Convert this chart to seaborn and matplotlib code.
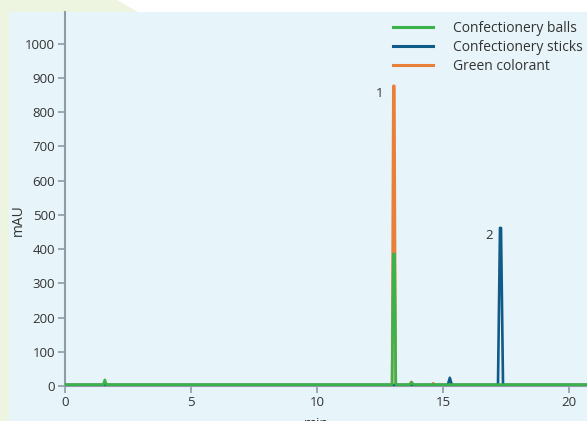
import matplotlib
matplotlib.use("Agg")
import matplotlib.pyplot as plt
import seaborn as sns
import pandas as pd
from matplotlib.patches import Polygon, Rectangle

# ---- data ----
balls_t = [0, 1.52, 1.58, 1.64, 1.70, 12.97, 13.02, 13.07, 13.12, 13.68, 13.75, 13.82, 20.7]
balls_v = [4, 4, 18, 4, 4, 4, 386, 386, 4, 4, 11, 4, 4]

sticks_t = [0, 15.18, 15.26, 15.34, 17.17, 17.25, 17.29, 17.37, 20.7]
sticks_v = [3, 3, 24, 3, 3, 462, 462, 3, 3]

colorant_t = [0, 12.97, 13.02, 13.06, 13.11, 13.66, 13.73, 13.80, 14.55, 14.60, 14.65, 20.7]
colorant_v = [3, 3, 877, 877, 3, 3, 12, 3, 3, 8, 3, 3]

series_names = ["Confectionery balls", "Confectionery sticks", "Green colorant"]
colors = ["#3bb34a", "#115b88", "#e8803a"]
peak_labels = ["1", "2"]
peak_label_x = [12.46, 16.83]
peak_label_y = [855, 441]
xticks = [0, 5, 10, 15, 20]
yticks = [0, 100, 200, 300, 400, 500, 600, 700, 800, 900, 1000]

W, H = 587, 421
fig = plt.figure(figsize=(W / 100, H / 100), dpi=100, facecolor="white")
plt.rcParams["font.family"] = ["Open Sans", "DejaVu Sans"]
text_col = "#333333"
spine_col = "#8e9ca6"

# background shapes (figure pixel coordinates, y up)
def fx(px):
    return px / W

def fy(py):
    return 1 - py / H

fig.patches.append(Polygon([(fx(0), fy(421)), (fx(0), fy(0)), (fx(117), fy(0)),
                            (fx(138), fy(12)), (fx(138), fy(421))],
                           closed=True, transform=fig.transFigure,
                           facecolor="#edf5e0", edgecolor="none", zorder=-20))
fig.patches.append(Rectangle((fx(9), fy(421)), fx(587) - fx(9), fy(12) - fy(421),
                             transform=fig.transFigure, facecolor="#e7f4f9",
                             edgecolor="none", zorder=-10))

ax = fig.add_axes([fx(65), fy(386), fx(587) - fx(65), fy(12) - fy(386)])
ax.set_zorder(5)
ax.set_facecolor("none")

df = pd.concat([
    pd.DataFrame({"t": balls_t, "v": balls_v, "s": series_names[0]}),
    pd.DataFrame({"t": sticks_t, "v": sticks_v, "s": series_names[1]}),
    pd.DataFrame({"t": colorant_t, "v": colorant_v, "s": series_names[2]}),
])

zorders = {series_names[0]: 4, series_names[1]: 3, series_names[2]: 2}
for name, col in zip(series_names, colors):
    sns.lineplot(data=df[df["s"] == name], x="t", y="v", color=col, lw=1.9,
                 estimator=None, sort=False, ax=ax, zorder=zorders[name],
                 label=name)

ax.set_xlim(0, 20.7)
ax.set_ylim(0, 1093)
ax.set_xticks(xticks)
ax.set_yticks(yticks)
ax.set_xticklabels([str(x) for x in xticks])
ax.set_yticklabels([str(y) for y in yticks])

for s in ["top", "right"]:
    ax.spines[s].set_visible(False)
for s in ["left", "bottom"]:
    ax.spines[s].set_color(spine_col)
    ax.spines[s].set_linewidth(1.5)
    ax.spines[s].set_zorder(1)
ax.tick_params(axis="both", colors=spine_col, length=5, width=1.2,
               labelcolor=text_col, labelsize=9.5, pad=2)

ax.set_xlabel("min", fontsize=10, color=text_col)
ax.set_ylabel("mAU", fontsize=10, color=text_col)
ax.xaxis.set_label_coords(0.481, -0.083)
ax.yaxis.set_label_coords(-0.074, 0.444)

for lab, x, y in zip(peak_labels, peak_label_x, peak_label_y):
    ax.text(x, y, lab, fontsize=9.5, color=text_col, ha="center", va="center")

leg = ax.legend(loc="upper left", bbox_to_anchor=(fx(393), fy(21)),
                bbox_transform=fig.transFigure, frameon=False, fontsize=10,
                handlelength=2.9, handletextpad=1.45, labelspacing=0.28,
                borderaxespad=0, borderpad=0)
for t in leg.get_texts():
    t.set_color(text_col)
for ln in leg.get_lines():
    ln.set_linewidth(2.2)

fig.savefig("out.png", dpi=100, facecolor=fig.get_facecolor())
